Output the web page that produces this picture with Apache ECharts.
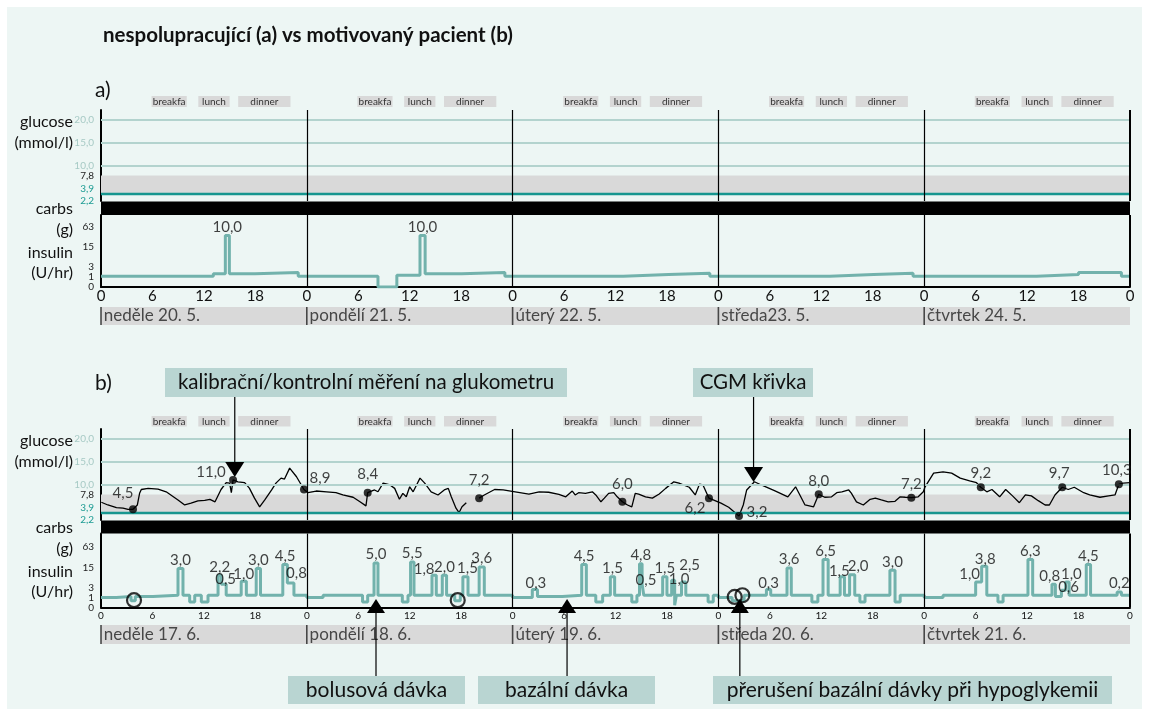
<!DOCTYPE html>
<html>
<head>
<meta charset="utf-8">
<script src="https://cdn.jsdelivr.net/npm/echarts@6/dist/echarts.min.js"></script>
<style>
html,body{margin:0;padding:0;background:#fff;}
#wrap{position:relative;width:1149px;height:715px;background:#fff;}
#panel{position:absolute;left:7px;top:7px;width:1135px;height:702px;background:#edf6f4;}
#main{position:absolute;left:0;top:0;width:1149px;height:715px;}
</style>
</head>
<body>
<div id="wrap"><div id="panel"></div><div id="main"></div></div>
<script>
// --- data ---
var daysA = ['neděle 20. 5.', 'pondělí 21. 5.', 'úterý 22. 5.', 'středa23. 5.', 'čtvrtek 24. 5.'];
var daysB = ['neděle 17. 6.', 'pondělí 18. 6.', 'úterý 19. 6.', 'středa 20. 6.', 'čtvrtek 21. 6.'];
var meals = [['breakfa', 5.9, 10.0], ['lunch', 11.35, 15.0], ['dinner', 16.0, 22.1]];
var glucoseTicks = [2.2, 3.9, 7.8, 10, 15, 20];
var glucoseGridLines = [10, 15, 20];
var targetBand = [3.9, 7.8];
var insulinTicks = [0, 1, 3, 15, 63];
var dayEdges = [24, 48, 72, 96, 120];

// [hour, U/hr] step points
var insulinA = [
  [0, 1.1], [13.1, 1.5], [14.5, 34], [14.97, 1.5], [17.96, 1.7], [23.0, 1.1],
  [32.3, 0], [34.5, 1.24], [37.2, 34], [37.8, 1.5], [42.06, 1.7], [47.1, 1.1],
  [60.9, 1.35], [66.2, 1.6], [71.0, 1.1],
  [85.0, 1.35], [90.1, 1.6], [94.7, 1.1],
  [109.1, 1.35], [114.0, 1.7], [119.0, 1.1], [120, 1.1]
];
var bolusA = [[14.73, 34, '10,0'], [37.5, 34, '10,0']];

var insulinB = [
  [0, 1.0], [1.8, 1.15], [3.5, 0.6], [4.0, 1.15], [6.06, 1.33], [8.98, 13.7], [9.56, 1.33], [10.34, 0.47], [10.93, 1.33],
  [11.7, 0.47], [12.48, 1.33], [13.65, 8.3], [14.03, 4.0], [14.6, 1.33], [16.35, 5.1], [16.95, 1.33],
  [18.1, 13.7], [18.6, 1.33], [21.2, 18.4], [21.73, 4.46], [22.5, 1.33],
  [24, 1.0], [25.9, 1.33], [30.5, 0.47], [31.1, 1.33], [31.84, 20.7], [32.3, 1.33], [35.14, 0.47], [35.8, 1.33],
  [36.1, 22.2], [36.5, 1.33], [38.6, 8.3], [39.1, 1.33], [39.8, 8.3], [40.3, 1.33], [41.25, 0.6], [41.9, 1.33],
  [42.2, 7.3], [42.8, 1.33], [44.1, 15.4], [44.7, 1.33],
  [48, 1.0], [50.3, 2.46], [50.9, 1.15], [53.8, 1.33], [56.06, 18.4], [56.6, 1.33], [57.7, 0.47], [58.5, 1.33],
  [59.4, 7.3], [59.9, 1.33], [61.9, 0.47], [62.5, 1.33], [62.8, 19.6], [63.1, 4.0], [63.3, 1.33], [65.5, 7.3],
  [66.0, 1.33], [66.55, 5.5], [66.9, 0.17], [67.1, 1.33], [67.7, 4.85], [68.2, 1.33], [70.8, 0.47], [71.4, 1.33],
  [72, 1.0], [73.6, 0.6], [75.0, 1.33], [77.6, 2.46], [78.1, 1.33], [80.0, 14.3], [80.5, 1.33], [82.9, 0.47],
  [83.6, 1.33], [84.2, 26.4], [84.8, 1.33], [86.2, 7.3], [86.7, 1.33], [87.3, 8.5], [87.9, 1.33], [88.5, 0.47],
  [89.1, 1.33], [92.0, 12.1], [92.6, 0.47], [93.2, 1.33],
  [96, 1.0], [98.2, 1.33], [102.0, 4.85], [102.7, 16.3], [103.3, 1.33], [104.6, 0.47], [105.2, 1.33],
  [108.1, 26.4], [108.65, 1.33], [110.9, 4.0], [111.3, 1.15], [112.0, 2.3], [112.5, 4.85], [112.9, 1.33],
  [114.9, 18.4], [115.4, 1.33], [118.5, 1.9], [119.0, 1.33], [120, 1.33]
];
var bolusB = [
  [9.27, 13.7, '3,0'], [13.84, 8.3, '2,2'], [14.3, 4.0, '0,5'], [16.65, 5.1, '1,0'], [18.35, 13.7, '3,0'], [21.47, 18.4, '4,5'], [22.1, 4.46, '0,8'],
  [32.07, 20.7, '5,0'], [36.3, 22.2, '5,5'], [38.85, 8.3, '1,8'], [40.05, 8.3, '2,0'], [42.5, 7.3, '1,5'], [44.4, 15.4, '3,6'],
  [50.6, 2.46, '0,3'], [56.33, 18.4, '4,5'], [59.65, 7.3, '1,5'], [62.95, 19.6, '4,8'], [63.2, 4.0, '0,5'], [65.75, 7.3, '1,5'], [66.72, 5.5, '1,0'], [67.95, 4.85, '2,5'],
  [77.85, 2.46, '0,3'], [80.25, 14.3, '3,6'], [84.5, 26.4, '6,5'], [86.45, 7.3, '1,5'], [87.6, 8.5, '2,0'], [92.3, 12.1, '3,0'],
  [102.35, 4.85, '1,0'], [103.0, 16.3, '3,8'], [108.38, 26.4, '6,3'], [111.1, 4.0, '0,8'], [112.7, 4.85, '1,0'], [112.25, 2.3, '0,6'], [115.15, 18.4, '4,5'], [118.75, 1.9, '0,2']
];
var suspendB = [[3.85, 0.66], [41.6, 0.66], [73.9, 1.07], [74.8, 1.33]];

// CGM trace (hour, mmol/l); null = gap
var cgmB = [
  [0.04, 6.1], [0.8, 5.5], [1.8, 4.9], [2.57, 4.8], [3.15, 4.55], [3.73, 4.55], [4.24, 5.5], [4.5, 8.06], [4.7, 8.9],
  [5.5, 9.15], [6.65, 9.0], [7.6, 8.4], [8.98, 6.6], [9.76, 5.5], [10.5, 5.9], [11.3, 6.4], [12.1, 6.5], [12.7, 6.75],
  [13.3, 6.2], [14.0, 8.9], [14.6, 10.4], [15.0, 10.3], [15.2, 8.2], [15.4, 11.0], [15.97, 10.6], [16.75, 10.4],
  [17.3, 9.2], [17.9, 7.0], [18.5, 5.1], [19.1, 6.6], [19.9, 8.8], [20.4, 10.3], [21.0, 11.4], [21.4, 11.2],
  [22.0, 13.6], [22.8, 11.7], [23.67, 8.9],
  [24.14, 8.2], [25.1, 8.57], [26.3, 8.4], [27.4, 8.2], [28.2, 7.7], [29.4, 7.2], [30.2, 6.2], [30.9, 5.3], [31.1, 8.2],
  [31.9, 8.8], [32.3, 8.4], [32.9, 10.3], [33.7, 9.9], [34.25, 9.15], [34.8, 6.75], [35.2, 8.06], [35.6, 7.3],
  [36.0, 9.5], [36.4, 8.4], [36.8, 9.9], [37.2, 11.4], [37.75, 10.3], [38.5, 8.4], [39.3, 7.7], [40.1, 8.9],
  [40.5, 9.15], [40.85, 7.3], [41.4, 4.8], [41.75, 3.8], [42.1, 5.1], [42.6, 6.0], [43.3, null],
  [44.1, 7.0], [44.7, 7.7], [45.9, 8.9], [46.9, 8.8], [48.3, 8.4],
  [49.9, 7.9], [51.1, 8.4], [52.2, 8.3], [53.4, 7.85], [54.2, 7.3], [54.96, 8.57], [55.3, 7.7], [55.7, 8.2],
  [56.5, 8.06], [57.3, 8.4], [57.7, 7.7], [58.3, 6.2], [58.7, 7.0], [59.2, 8.06], [59.8, 8.2], [60.2, 7.3],
  [60.8, 6.2], [61.4, 5.5], [61.9, 5.1], [62.3, 8.06], [62.7, 7.9], [63.5, 7.3], [64.3, 7.0], [65.1, 7.9],
  [65.85, 9.15], [66.8, 10.6], [67.4, 10.3], [68.6, 9.4], [69.3, 7.7], [69.8, 10.1], [70.2, 9.9], [70.9, 7.0],
  [72.3, 5.9], [73.2, 5.0],
  [74.4, 3.1], [74.9, 5.5], [75.3, 8.8], [76.2, 10.6], [77.0, 9.9], [78.6, 8.6], [80.1, 7.3], [81.0, 9.5],
  [81.5, 7.7], [82.1, 5.5], [83.1, 5.1], [83.7, 7.85], [84.4, 7.2], [85.2, 7.3], [85.8, 8.2], [86.4, 8.4],
  [87.2, 8.8], [87.5, 8.1], [88.1, 6.2], [88.9, 5.5], [89.7, 6.75], [90.3, 7.0], [91.0, 6.6], [91.8, 6.2],
  [92.6, 6.3], [93.2, 7.3], [93.8, 7.2], [94.5, 7.1], [95.3, 7.3], [95.9, 8.4],
  [96.1, 9.5], [97.1, 12.5], [98.2, 12.8], [99.2, 12.5], [100.2, 11.4], [101.3, 10.8], [102.1, 10.4], [102.6, 9.4],
  [103.3, 8.4], [103.9, 8.9], [104.8, 7.3], [105.5, 8.9], [106.3, 7.5], [107.1, 6.0], [107.8, 7.7], [108.5, 7.5],
  [109.3, 6.45], [110.1, 5.5], [110.6, 5.5], [111.25, 7.7], [112.1, 9.4], [112.8, 8.9], [113.5, 9.4], [114.6, 8.2],
  [115.3, 7.7], [116.5, 7.2], [117.5, 7.5], [118.25, 7.7], [118.7, 10.05], [119.2, 10.3], [120, 10.4]
];
// glucometer readings [hour, plotted mmol/l, label]
var meterB = [
  [3.73, 4.55, '4,5'], [15.4, 11.0, '11,0'], [23.67, 8.9, '8,9'], [31.1, 8.2, '8,4'], [44.1, 7.0, '7,2'],
  [60.8, 6.2, '6,0'], [70.9, 7.0, '6,2'], [74.4, 3.1, '3,2'], [83.7, 7.85, '8,0'], [94.5, 7.1, '7,2'],
  [102.6, 9.4, '9,2'], [112.1, 9.4, '9,7'], [118.7, 10.05, '10,3']
];

// --- label nudges (pixels) ---
var meterNudge = [[-10, -16], [-22, -8], [16, -11], [0, -19], [0, -18], [0, -18], [-14, 10], [18, -4], [0, -13], [0, -14], [0, -14], [-3, -14], [-2, -14]];
var bolusNudge = {2: [2, 3], 3: [0, 1], 6: [6, -1], 9: [-10, 2], 11: [2, 0], 13: [1, 2], 17: [3, 4], 19: [6, 7], 20: [6, -8],
  21: [0, 2], 24: [-3, 3], 25: [6, 0], 27: [-9, 1], 28: [1, 1], 30: [-4, 0], 31: [4, 1], 32: [5, 5.5]};

var K = 10.05; // px per log2 unit on insulin axis
function lg(v) { return Math.log(1 + v) / Math.LN2; }
function comma(v) { return v.toFixed(1).replace('.', ','); }

var FONT = 'Lato';
var grids = [
  {top: 96, height: 11}, {top: 110, height: 91}, {top: 201.5, height: 13.5}, {top: 215, height: 72}, {top: 307, height: 18},
  {top: 416, height: 10.5}, {top: 429, height: 91}, {top: 520.5, height: 13}, {top: 533.5, height: 74}, {top: 625, height: 19}
].map(function (g, i) {
  var r = {left: 101, width: 1029, top: g.top, height: g.height, containLabel: false};
  if (i === 2 || i === 7) { r.show = true; r.backgroundColor = '#000'; r.borderWidth = 0; }
  if (i === 4 || i === 9) { r.show = true; r.backgroundColor = '#d9d9d9'; r.borderWidth = 0; }
  return r;
});

var xAxes = grids.map(function (g, i) {
  var ins = (i === 3 || i === 8);
  return {
    gridIndex: i, type: 'value', min: 0, max: 120, interval: 6, show: ins,
    axisLine: {show: true, lineStyle: {color: '#000', width: 2}},
    axisTick: {show: false}, splitLine: {show: false},
    axisLabel: {
      formatter: function (v) { return String(v % 24); },
      fontFamily: FONT, fontSize: i === 3 ? 15 : 10, color: '#111', margin: i === 3 ? 2 : 3
    }
  };
});

var yAxes = grids.map(function (g, i) {
  if (i === 1 || i === 6) {
    return {
      gridIndex: i, type: 'value', min: 2.2, max: 22.2,
      axisLine: {show: true, lineStyle: {color: '#000', width: 2}},
      axisTick: {show: false}, splitLine: {show: false},
      axisLabel: {
        customValues: glucoseTicks, margin: 7, fontFamily: FONT, fontSize: 10,
        formatter: function (v) {
          var s = comma(v);
          if (v >= 10) return '{l|' + s + '}';
          if (v > 7) return '{d|' + s + '}';
          if (v > 3) return '{u|' + s + '}';
          return '{t|' + s + '}';
        },
        rich: {
          l: {color: '#a7cac5', fontFamily: FONT, fontSize: 10},
          d: {color: '#222', fontFamily: FONT, fontSize: 10},
          u: {color: '#1d9c93', fontFamily: FONT, fontSize: 10, padding: [0, 0, 9, 0]},
          t: {color: '#1d9c93', fontFamily: FONT, fontSize: 10}
        }
      }
    };
  }
  if (i === 3 || i === 8) {
    return {
      gridIndex: i, type: 'value', min: 0, max: g.height / K,
      axisLine: {show: true, lineStyle: {color: '#000', width: 2}},
      axisTick: {show: false}, splitLine: {show: false},
      axisLabel: {
        customValues: insulinTicks.map(lg), margin: 7, fontFamily: FONT, fontSize: 10, color: '#222',
        formatter: function (v) { return String(Math.round(Math.pow(2, v) - 1)); }
      }
    };
  }
  return {gridIndex: i, type: 'value', min: 0, max: 1, show: false};
});

var mealData = [], mealNames = [];
for (var d = 0; d < 5; d++) {
  meals.forEach(function (m) { mealData.push([d * 24 + m[1], d * 24 + m[2]]); mealNames.push(m[0]); });
}

function mealSeries(gi) {
  return {
    type: 'custom', xAxisIndex: gi, yAxisIndex: gi, data: mealData, silent: true,
    renderItem: function (params, api) {
      var p0 = api.coord([api.value(0), 1]);
      var p1 = api.coord([api.value(1), 0]);
      return {type: 'group', children: [
        {type: 'rect', shape: {x: p0[0], y: p0[1], width: p1[0] - p0[0], height: p1[1] - p0[1]}, style: {fill: '#d9d9d9'}},
        {type: 'text', style: {text: mealNames[params.dataIndex], x: (p0[0] + p1[0]) / 2, y: (p0[1] + p1[1]) / 2 + 0.5,
          align: 'center', verticalAlign: 'middle', fontFamily: FONT, fontSize: 10, fill: '#333'}}
      ]};
    }
  };
}

function dayLineData() {
  return dayEdges.map(function (h) {
    return {xAxis: h, lineStyle: {color: '#000', width: h === 120 ? 2 : 1.2, type: 'solid'}};
  });
}

function bandSeries(gi) {
  return {type: 'line', xAxisIndex: gi, yAxisIndex: gi, data: [], silent: true, z: 1,
    markArea: {silent: true, itemStyle: {color: '#d9d9d9'}, data: [[{yAxis: targetBand[0]}, {yAxis: targetBand[1]}]]}};
}

function refSeries(gi) {
  var ml = glucoseGridLines.map(function (g) { return {yAxis: g, lineStyle: {color: '#b3d3ce', width: 2.2, type: 'solid'}}; });
  ml.push({yAxis: targetBand[0], lineStyle: {color: '#16968f', width: 2.4, type: 'solid'}});
  ml = ml.concat(dayLineData());
  return {type: 'line', xAxisIndex: gi, yAxisIndex: gi, data: [], silent: true, z: 2,
    markLine: {silent: true, symbol: ['none', 'none'], label: {show: false}, animation: false, data: ml}};
}

function insulinSeries(gi, pts) {
  return {type: 'line', xAxisIndex: gi, yAxisIndex: gi, step: 'end', showSymbol: false, silent: true, z: 3,
    lineStyle: {color: '#72b2ac', width: 3}, itemStyle: {color: '#72b2ac'},
    data: pts.map(function (p) { return [p[0], lg(p[1])]; }),
    markLine: {silent: true, symbol: ['none', 'none'], label: {show: false}, animation: false, data: dayLineData()}};
}

function bolusSeries(gi, list, nudge) {
  return {type: 'scatter', xAxisIndex: gi, yAxisIndex: gi, symbolSize: 1, silent: true, z: 5,
    itemStyle: {color: 'rgba(0,0,0,0)'},
    data: list.map(function (b, i) {
      var n = (nudge && nudge[i]) || [0, 0];
      return {value: [b[0], lg(b[1])], label: {offset: [n[0], -8.5 + n[1]]}, name: b[2]};
    }),
    label: {show: true, position: 'inside', formatter: '{b}', fontFamily: FONT, fontSize: 15, color: '#111'}};
}

function daySeries(gi, names) {
  return {type: 'scatter', xAxisIndex: gi, yAxisIndex: gi, silent: true, z: 5,
    symbol: 'rect', symbolSize: [1.6, grids[gi].height], itemStyle: {color: '#222'},
    data: names.map(function (n, i) { return {value: [i * 24, 0.5], name: n}; }),
    label: {show: true, position: 'right', distance: 2, formatter: '{b}', fontFamily: FONT, fontSize: 17, color: '#222'}};
}

var series = [
  mealSeries(0), bandSeries(1), refSeries(1), insulinSeries(3, insulinA), bolusSeries(3, bolusA, null), daySeries(4, daysA),
  mealSeries(5), bandSeries(6), refSeries(6),
  {type: 'line', xAxisIndex: 6, yAxisIndex: 6, showSymbol: false, silent: true, z: 4, connectNulls: false,
    lineStyle: {color: '#000', width: 1.3}, itemStyle: {color: '#000'}, data: cgmB},
  {type: 'scatter', xAxisIndex: 6, yAxisIndex: 6, symbolSize: 8, silent: true, z: 6, itemStyle: {color: '#000'},
    data: meterB.map(function (m, i) { return {value: [m[0], m[1]], name: m[2], label: {offset: meterNudge[i]}}; }),
    label: {show: true, position: 'inside', formatter: '{b}', fontFamily: FONT, fontSize: 15, color: '#111'}},
  insulinSeries(8, insulinB), bolusSeries(8, bolusB, bolusNudge),
  {type: 'scatter', xAxisIndex: 8, yAxisIndex: 8, symbol: 'circle', symbolSize: 14, silent: true, z: 6,
    itemStyle: {color: 'rgba(0,0,0,0)', borderColor: '#000', borderWidth: 2.2},
    data: suspendB.map(function (s) { return [s[0], lg(s[1])]; })},
  daySeries(9, daysB)
];

var chart = echarts.init(document.getElementById('main'), null, {renderer: 'canvas'});
chart.setOption({
  backgroundColor: 'transparent',
  animation: false,
  textStyle: {fontFamily: FONT},
  grid: grids, xAxis: xAxes, yAxis: yAxes, series: series
});

// --- text and callouts ---
function txt(x, y, s, size, align, weight) {
  return {type: 'text', x: x, y: y, z: 100, silent: true,
    style: {text: s, fontFamily: FONT, fontSize: size, fontWeight: weight || 'normal', fill: '#111',
      align: align || 'left', verticalAlign: 'middle'}};
}
var g = [];
g.push(txt(103, 35, 'nespolupracující (a) vs motivovaný pacient (b)', 20.5, 'left', 'bold'));
g.push(txt(95, 90, 'a)', 21));
g.push(txt(95, 383, 'b)', 21));
[[0, 0], [319, 1]].forEach(function (o) {
  var dy = o[0];
  g.push(txt(73, 122 + dy, 'glucose', 16, 'right'));
  g.push(txt(73, 143 + dy, '(mmol/l)', 16, 'right'));
  g.push(txt(73, 209 + dy, 'carbs', 16, 'right'));
  g.push(txt(73, 230 + dy, '(g)', 16, 'right'));
  g.push(txt(73, 253 + dy, 'insulin', 16, 'right'));
  g.push(txt(73, 273 + dy, '(U/hr)', 16, 'right'));
});

function px(h) { return chart.convertToPixel({xAxisIndex: 8}, h); }
function box(x, y, w, h, s, size) {
  g.push({type: 'rect', z: 99, silent: true, shape: {x: x, y: y, width: w, height: h}, style: {fill: '#b9d5d2'}});
  g.push(txt(x + w / 2, y + h / 2, s, size, 'center'));
}
function downArrow(x, y0, tip) {
  g.push({type: 'line', z: 100, silent: true, shape: {x1: x, y1: y0, x2: x, y2: tip - 10}, style: {stroke: '#000', lineWidth: 1.2}});
  g.push({type: 'polygon', z: 100, silent: true, shape: {points: [[x - 9.5, tip - 15], [x + 9.5, tip - 15], [x, tip]]}, style: {fill: '#000'}});
}
function upArrow(x, tip, y1) {
  g.push({type: 'line', z: 100, silent: true, shape: {x1: x, y1: tip + 10, x2: x, y2: y1}, style: {stroke: '#000', lineWidth: 1.2}});
  g.push({type: 'polygon', z: 100, silent: true, shape: {points: [[x - 9, tip + 14], [x + 9, tip + 14], [x, tip]]}, style: {fill: '#000'}});
}
box(165, 368, 402, 29, 'kalibrační/kontrolní měření na glukometru', 20.5);
box(693, 368, 120, 29, 'CGM křivka', 20.5);
downArrow(px(15.6), 397, 477);
downArrow(px(76.1), 397, 482);
box(288, 676, 177, 28, 'bolusová dávka', 21);
box(478, 676, 177, 28, 'bazální dávka', 21);
box(713, 676, 399, 28, 'přerušení bazální dávky při hypoglykemii', 21);
upArrow(px(32.07), 599, 676);
upArrow(px(54.35), 599, 676);
upArrow(px(74.5), 599, 676);

chart.setOption({graphic: g});
</script>
</body>
</html>
